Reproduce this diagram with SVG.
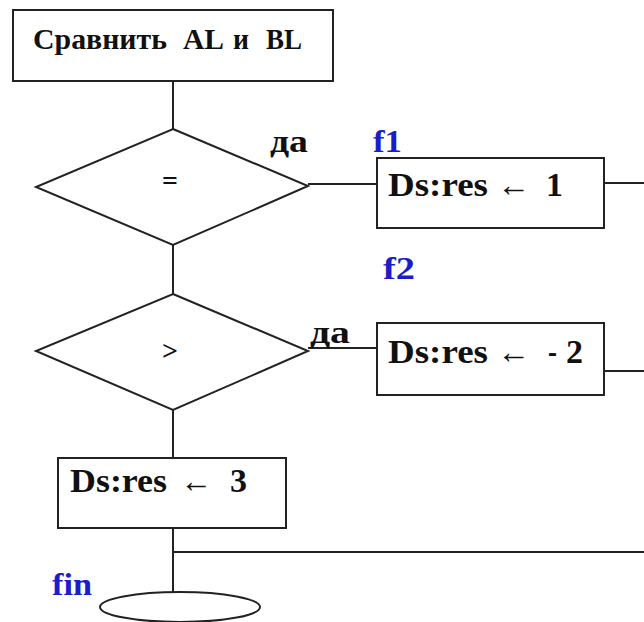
<svg xmlns="http://www.w3.org/2000/svg" width="644" height="622" viewBox="0 0 644 622">
<style>
.shape{fill:#fff;stroke:#222;stroke-width:2}
.line{fill:none;stroke:#222;stroke-width:2}
.t{font-family:"Liberation Serif",serif;font-weight:bold;fill:#111}
.lbl{font-family:"Liberation Serif",serif;font-weight:bold;fill:#1c1cc8}
</style>
<rect width="644" height="622" fill="#fff"/>
<g id="connectors">
<line class="line" x1="173" y1="81" x2="173" y2="129"/>
<line class="line" x1="308" y1="184" x2="377" y2="184"/>
<line class="line" x1="604" y1="183" x2="644" y2="183"/>
<line class="line" x1="173" y1="245" x2="173" y2="294"/>
<line class="line" x1="308" y1="348" x2="377" y2="348"/>
<line class="line" x1="604" y1="371" x2="644" y2="371"/>
<line class="line" x1="173" y1="410" x2="173" y2="458"/>
<line class="line" x1="173" y1="528" x2="173" y2="592"/>
<line class="line" x1="173" y1="552" x2="644" y2="552"/>
</g>
<g id="start">
<rect class="shape" x="13" y="10" width="320" height="71"/>
<text class="t" y="49" font-size="30"><tspan x="33" textLength="134" lengthAdjust="spacingAndGlyphs">Сравнить</tspan><tspan x="183" textLength="41" lengthAdjust="spacingAndGlyphs">AL</tspan><tspan x="233" textLength="16" lengthAdjust="spacingAndGlyphs">и</tspan><tspan x="266" textLength="36" lengthAdjust="spacingAndGlyphs">BL</tspan></text>
</g>
<g id="cond1">
<polygon class="shape" points="173,129 308,186 173,245 36,187"/>
<text class="t" x="170" y="190" font-size="28" text-anchor="middle">=</text>
<text class="t" x="270" y="152" font-size="32" textLength="38" lengthAdjust="spacingAndGlyphs">да</text>
</g>
<g id="f1">
<text class="lbl" x="373" y="152" font-size="32" textLength="29" lengthAdjust="spacingAndGlyphs">f1</text>
<rect class="shape" x="377" y="158" width="227" height="70"/>
<text class="t" y="196" font-size="33"><tspan x="388" textLength="100" lengthAdjust="spacingAndGlyphs">Ds:res</tspan><tspan x="497" textLength="33" lengthAdjust="spacingAndGlyphs">←</tspan><tspan x="546" textLength="17" lengthAdjust="spacingAndGlyphs">1</tspan></text>
</g>
<g id="cond2">
<polygon class="shape" points="173,294 308,351 173,410 36,351"/>
<text class="t" x="170" y="360" font-size="28" text-anchor="middle">&gt;</text>
<text class="t" x="310" y="343" font-size="32" textLength="40" lengthAdjust="spacingAndGlyphs">да</text>
</g>
<g id="f2">
<text class="lbl" x="383" y="279" font-size="32" textLength="32" lengthAdjust="spacingAndGlyphs">f2</text>
<rect class="shape" x="377" y="323" width="227" height="72"/>
<text class="t" y="363" font-size="33"><tspan x="388" textLength="100" lengthAdjust="spacingAndGlyphs">Ds:res</tspan><tspan x="497" textLength="33" lengthAdjust="spacingAndGlyphs">←</tspan><tspan x="548" textLength="9" lengthAdjust="spacingAndGlyphs">-</tspan><tspan x="566" textLength="17" lengthAdjust="spacingAndGlyphs">2</tspan></text>
</g>
<g id="else">
<rect class="shape" x="58" y="458" width="228" height="70"/>
<text class="t" y="492" font-size="33"><tspan x="70" textLength="97" lengthAdjust="spacingAndGlyphs">Ds:res</tspan><tspan x="180" textLength="32" lengthAdjust="spacingAndGlyphs">←</tspan><tspan x="230" textLength="17" lengthAdjust="spacingAndGlyphs">3</tspan></text>
</g>
<g id="fin">
<text class="lbl" x="52" y="595" font-size="32" textLength="40" lengthAdjust="spacingAndGlyphs">fin</text>
<ellipse class="shape" cx="180" cy="607" rx="80" ry="15"/>
</g>
</svg>
